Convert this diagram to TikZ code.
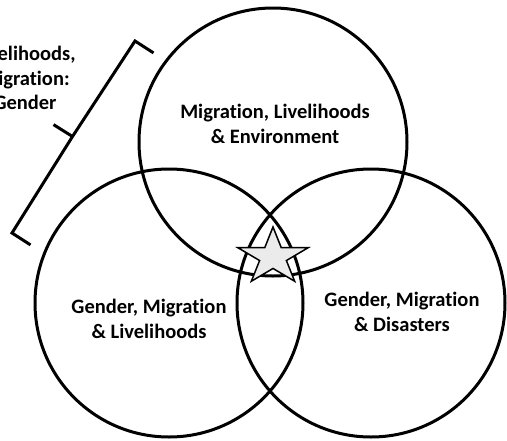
\documentclass[tikz,border=0pt]{standalone}
\usepackage{fontspec}
\setmainfont{Carlito}[Ligatures=NoCommon]
\usetikzlibrary{shapes.geometric}

\begin{document}
\begin{tikzpicture}[x=1pt,y=-1pt,
  ring/.style={circle,draw,line width=3pt,minimum size=268pt,inner sep=0pt},
  lbl/.style={align=center,font=\fontsize{20.5}{24.5}\selectfont\bfseries,inner sep=0pt},
  bracket/.style={line width=3pt}]
\clip (0,0) rectangle (507,440);
 \node[ring] (mle) at (273,142) {};
  \node[ring] (gml) at (169,303) {};
   \node[ring] (gmd) at (371,303) {};

 \node[lbl] (mletext) at (275,124) {Migration, Livelihoods\\ \& Environment};
  \node[lbl] (gmltext) at (149,319) {Gender, Migration\\ \& Livelihoods};
   \node[lbl] (gmdtext) at (402,312) {Gender, Migration\\ \& Disasters};

   % bracket and its label
 \node[lbl] (focus) at (25,78) {Livelihoods,\\ Migration:\\ Gender};
  \coordinate (tip) at (72.5,136.5);
   \draw[bracket] (153.5,52.9) -- (135,41) -- (tip) -- (12,233) -- (30.5,244.9);
    \draw[bracket] (tip) -- (53.5,124.6);

 \node[star,star points=5,star point ratio=2.618,minimum size=60pt,inner sep=0pt,
   xscale=1.23,draw=black,fill=black!8,line width=1.5pt] (hub) at (273,257) {};
\end{tikzpicture}
\end{document}
